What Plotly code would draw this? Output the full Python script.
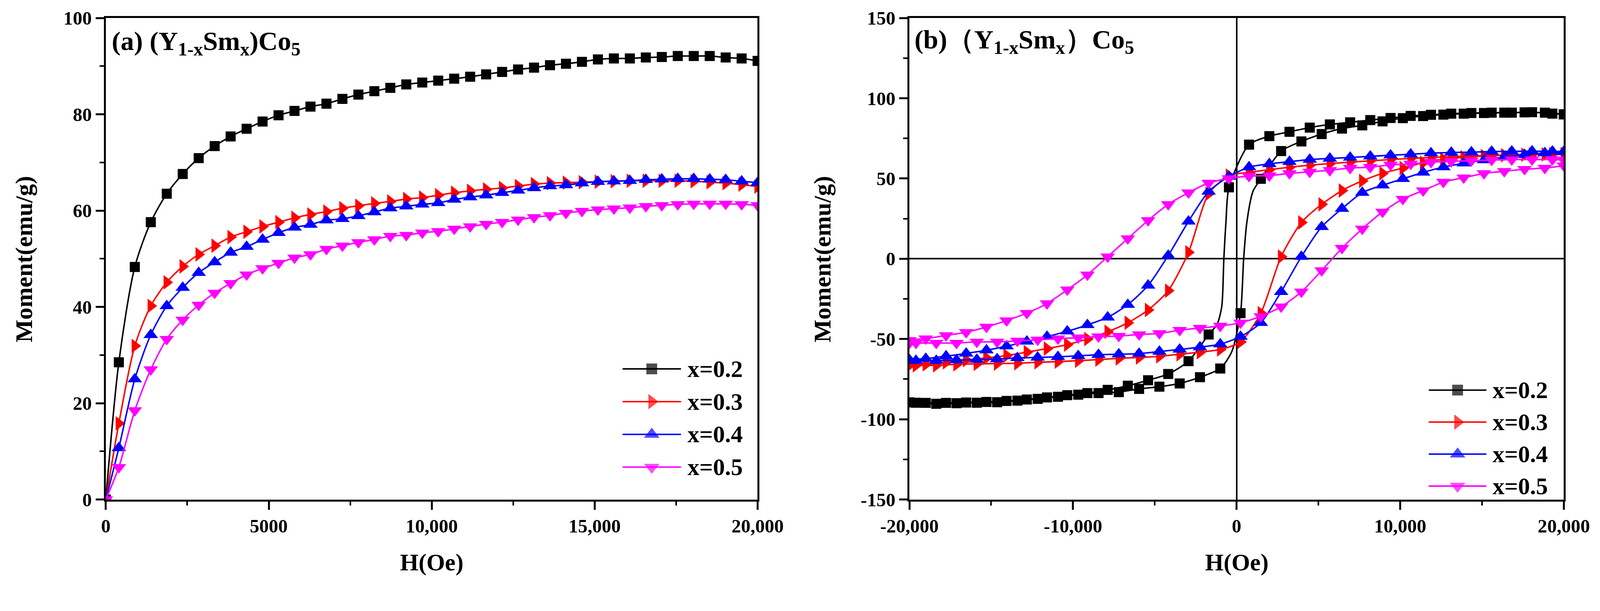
import plotly.graph_objects as go

# ---------- data: (a) initial magnetization curves ----------
H_a = [0, 400, 890, 1380, 1870, 2360, 2850, 3340, 3830, 4320, 4810, 5300, 5790, 6280,
       6770, 7260, 7750, 8240, 8730, 9220, 9710, 10200, 10690, 11180, 11670, 12160,
       12650, 13140, 13630, 14120, 14610, 15100, 15590, 16080, 16570, 17060, 17550,
       18040, 18530, 19020, 19510, 20000]

M_a_02 = [0, 28.5, 48.3, 57.6, 63.5, 67.6, 70.9, 73.4, 75.4, 77.0, 78.5, 79.8, 80.7, 81.6,
          82.2, 83.2, 84.1, 84.8, 85.5, 86.2, 86.6, 87.0, 87.4, 87.8, 88.3, 88.8, 89.3,
          89.7, 90.2, 90.5, 90.9, 91.4, 91.6, 91.6, 91.8, 91.9, 92.1, 92.1, 92.1, 91.8,
          91.6, 91.1]
M_a_03 = [0, 15.8, 31.9, 40.2, 45.1, 48.4, 50.9, 52.7, 54.5, 55.6, 56.7, 57.6, 58.5, 59.2,
          59.8, 60.5, 61.0, 61.5, 61.9, 62.4, 62.7, 63.2, 63.7, 64.1, 64.4, 64.7, 65.1,
          65.5, 65.7, 65.8, 65.9, 66.0, 66.1, 66.2, 66.2, 66.2, 66.2, 66.1, 65.9, 65.7,
          65.4, 65.0]
M_a_04 = [0, 10.7, 25.0, 34.2, 40.2, 44.0, 47.1, 49.3, 51.3, 52.5, 54.0, 55.4, 56.5, 57.1,
          58.0, 58.3, 58.9, 59.7, 60.5, 60.9, 61.3, 61.6, 62.3, 62.8, 63.2, 63.7, 64.2,
          64.7, 65.1, 65.3, 65.7, 66.0, 66.1, 66.2, 66.4, 66.5, 66.6, 66.6, 66.5, 66.4,
          66.1, 65.8]
M_a_05 = [0, 6.7, 18.5, 27.0, 33.3, 37.3, 40.4, 42.9, 44.9, 46.7, 48.0, 49.1, 50.2, 50.9,
          52.0, 52.7, 53.4, 54.0, 54.7, 54.9, 55.4, 55.7, 56.2, 56.7, 57.2, 57.6, 58.1,
          58.6, 59.0, 59.5, 59.9, 60.2, 60.4, 60.6, 60.9, 61.1, 61.3, 61.4, 61.4, 61.4,
          61.3, 61.1]

# ---------- data: (b) hysteresis loops (marked points) ----------
H_down = [20000, 19300, 18060, 16820, 15590, 14350, 13120, 11880, 10640, 9410, 8170, 6940,
          5700, 4470, 3230, 2000, 760, -470, -1710, -2940, -4180, -5410, -6650, -7880,
          -9120, -10350, -11590, -12820, -14060, -15290, -16530, -17760, -19000, -20000]
H_up = [-20000, -19600, -18360, -17120, -15880, -14640, -13400, -12160, -10920, -9680,
        -8440, -7200, -5960, -4720, -3480, -2240, -1000, 240, 1480, 2720, 3960, 5200,
        6440, 7680, 8920, 10160, 11400, 12640, 13880, 15120, 16360, 17600, 18840, 20000]

M_down_02 = [90.0, 90.4, 91.3, 91.0, 91.0, 90.8, 90.4, 89.7, 89.0, 87.7, 86.4, 85.0, 83.7,
             81.7, 79.1, 76.4, 71.1, 44.5, -47.2, -63.8, -71.8, -75.7, -79.1, -81.7, -83.7,
             -85.0, -86.4, -87.7, -88.6, -89.2, -89.6, -89.8, -89.8, -89.5]
M_up_02 = [-89.5, -89.7, -90.4, -90.0, -89.7, -89.4, -88.4, -87.3, -86.0, -84.7, -83.7,
           -83.1, -81.1, -79.7, -77.7, -73.8, -68.4, -33.9, 49.8, 67.1, 73.1, 77.7, 81.1,
           83.1, 85.6, 87.6, 88.9, 89.8, 90.4, 90.8, 91.0, 91.2, 91.0, 90.0]

M_down_03 = [65.1, 65.1, 65.0, 64.7, 64.4, 64.0, 63.6, 63.1, 62.5, 61.8, 61.0, 60.2, 59.3,
             58.3, 57.0, 55.5, 53.8, 51.8, 40.5, 4.0, -19.9, -31.9, -39.9, -45.5, -50.0,
             -53.5, -56.0, -58.2, -60.3, -61.8, -63.1, -64.5, -65.8, -66.0]
M_up_03 = [-66.4, -66.4, -66.4, -65.8, -65.5, -65.3, -65.1, -64.5, -64.1, -63.5, -62.8,
           -62.1, -61.5, -60.8, -59.5, -58.2, -56.5, -51.8, -33.9, 1.3, 22.6, 33.9, 42.5,
           48.5, 53.2, 56.5, 59.8, 62.0, 63.2, 64.0, 64.5, 64.8, 65.0, 65.1]

M_down_04 = [66.8, 66.9, 67.0, 66.9, 66.8, 66.4, 66.2, 65.8, 65.1, 64.5, 63.8, 63.1, 62.5,
             61.8, 60.5, 59.1, 57.1, 51.2, 41.9, 23.3, 2.0, -16.6, -28.6, -36.5, -41.2,
             -45.2, -48.5, -51.5, -54.5, -57.0, -59.0, -60.7, -62.3, -63.0]
M_up_04 = [-63.5, -63.5, -63.5, -63.1, -62.8, -62.5, -61.8, -61.5, -61.1, -60.5, -59.8,
           -59.5, -59.1, -57.8, -56.5, -55.1, -53.2, -48.5, -39.9, -20.6, 1.3, 19.9, 31.2,
           41.2, 45.8, 49.8, 53.8, 57.1, 59.5, 61.5, 63.3, 64.8, 65.9, 66.5]

M_down_05 = [61.5, 61.8, 61.8, 61.8, 61.5, 61.1, 60.7, 60.2, 59.1, 58.5, 57.1, 56.5, 55.1,
             54.1, 53.2, 51.8, 51.5, 50.0, 47.2, 41.2, 33.9, 23.9, 12.6, 1.3, -10.0, -19.3,
             -27.9, -33.9, -38.5, -42.5, -45.8, -47.8, -49.8, -50.8]
M_up_05 = [-52.5, -52.5, -52.5, -52.5, -51.8, -51.8, -51.2, -50.5, -49.8, -49.2, -48.5,
           -48.2, -47.2, -46.5, -44.5, -43.2, -41.9, -39.9, -35.9, -29.9, -20.6, -7.3, 6.6,
           18.6, 29.2, 37.2, 42.5, 47.8, 50.5, 53.2, 54.5, 55.8, 56.5, 58.0]

# unmarked readings on the steep part of the x=0.2 loop (line only, no symbol)
H_down_02_line = [-650, -780, -910, -1200]
M_down_02_line = [23, 0, -30, -41]
H_up_02_line = [-300, 430, 630, 1000]
M_up_02_line = [-58, 0, 23, 42]

labels = ['x=0.2', 'x=0.3', 'x=0.4', 'x=0.5']
colors = ['#000000', '#ff0000', '#0000ff', '#ff00ff']
symbols = ['square', 'triangle-right', 'triangle-up', 'triangle-down']

a_curves = [M_a_02, M_a_03, M_a_04, M_a_05]
b_down = [M_down_02, M_down_03, M_down_04, M_down_05]
b_up = [M_up_02, M_up_03, M_up_04, M_up_05]
b_down_line = [(H_down_02_line, M_down_02_line), ([], []), ([], []), ([], [])]
b_up_line = [(H_up_02_line, M_up_02_line), ([], []), ([], []), ([], [])]

FONT = 'Liberation Serif'

# positions below are in pixels of the 4295x1564 picture; the page shows the
# figure a bit enlarged and offset by the body margin, so sizes are scaled down
RW, RH = 4295, 1564
OFF = 8
B = 1.05
FW, FH = round((RW - OFF) / B), round((RH - OFF) / B)


def s(v):
    return v / B


def px(x):
    return (x - OFF) / (RW - OFF)


def py(y):
    return 1 - (y - OFF) / (RH - OFF)


def branch(h, m, h_extra, m_extra, falling):
    pts = sorted(zip(h + h_extra, m + m_extra), key=lambda p: -p[0] if falling else p[0])
    return [p[0] for p in pts], [p[1] for p in pts]


msizes = [s(27), s(34), s(34), s(34)]
LW = s(4)

fig = go.Figure()

# panel (a)
for i in range(4):
    fig.add_trace(go.Scatter(
        x=H_a, y=a_curves[i], mode='lines+markers', xaxis='x', yaxis='y',
        line=dict(color=colors[i], width=LW, shape='spline', smoothing=0.8),
        marker=dict(symbol=symbols[i], size=msizes[i], color=colors[i], line=dict(width=0)),
        showlegend=False))

# panel (b): line through all readings, symbols on the marked points
for i in range(4):
    xd, yd = branch(H_down, b_down[i], *b_down_line[i], falling=True)
    xu, yu = branch(H_up, b_up[i], *b_up_line[i], falling=False)
    fig.add_trace(go.Scatter(
        x=xd + xu, y=yd + yu, mode='lines', xaxis='x2', yaxis='y2',
        line=dict(color=colors[i], width=LW, shape='spline', smoothing=0.7),
        showlegend=False))
    fig.add_trace(go.Scatter(
        x=H_down + H_up, y=b_down[i] + b_up[i], mode='markers', xaxis='x2', yaxis='y2',
        marker=dict(symbol=symbols[i], size=msizes[i], color=colors[i], line=dict(width=0)),
        showlegend=False))

# hand-made legends (long line segments like the original)
legend_spots = [(1673, 1830, 1845, [991, 1079, 1167, 1255]),
                (3840, 3995, 4009, [1048, 1134, 1220, 1306])]
annots = []
for x0, x1, xt, rows in legend_spots:
    for i in range(4):
        yy = py(rows[i])
        fig.add_trace(go.Scatter(
            x=[px(x0), px((x0 + x1) / 2), px(x1)], y=[yy, yy, yy],
            mode='lines+markers', xaxis='x3', yaxis='y3',
            line=dict(color=colors[i], width=LW),
            marker=dict(symbol=symbols[i], size=[0, msizes[i] + s(2), 0], color=colors[i],
                        line=dict(width=0)),
            showlegend=False, hoverinfo='skip'))
        annots.append(dict(x=px(xt), y=yy, xref='paper', yref='paper',
                           text='<b>' + labels[i] + '</b>',
                           showarrow=False, xanchor='left', yanchor='middle',
                           font=dict(family=FONT, size=s(64), color='black')))

# panel titles
annots.append(dict(x=px(298), y=py(115), xref='paper', yref='paper',
                   text='<b>(a) (Y<sub>1-x</sub>Sm<sub>x</sub>)Co<sub>5</sub></b>',
                   showarrow=False, xanchor='left', yanchor='middle',
                   font=dict(family=FONT, size=s(72), color='black')))
annots.append(dict(x=px(2455), y=py(110), xref='paper', yref='paper',
                   text='<b>(b)（Y<sub>1-x</sub>Sm<sub>x</sub>）Co<sub>5</sub></b>',
                   showarrow=False, xanchor='left', yanchor='middle',
                   font=dict(family=FONT, size=s(72), color='black')))

# axis titles
for xc in [(284 + 2036) / 2, (2444 + 4203) / 2]:
    annots.append(dict(x=px(xc), y=py(1511), xref='paper', yref='paper', text='<b>H(Oe)</b>',
                       showarrow=False, xanchor='center', yanchor='middle',
                       font=dict(family=FONT, size=s(64), color='black')))
for xc in [64, 2210]:
    annots.append(dict(x=px(xc), y=py(696), xref='paper', yref='paper',
                       text='<b>Moment(emu/g)</b>', textangle=-90,
                       showarrow=False, xanchor='center', yanchor='middle',
                       font=dict(family=FONT, size=s(65), color='black')))


def axis(domain, rng, anchor, minor_vals, zero=False, **kw):
    d = dict(domain=domain, range=rng, anchor=anchor, showline=True, linewidth=s(5.5),
             linecolor='black', mirror=True, ticks='outside', ticklen=s(22), tickwidth=s(5),
             tickcolor='black', showgrid=False, zeroline=zero,
             zerolinecolor='black', zerolinewidth=s(4.5),
             tickfont=dict(family=FONT, size=s(51), color='black'),
             minor=dict(ticks='outside', ticklen=s(11), tickwidth=s(4), tickcolor='black',
                        tickmode='array', tickvals=minor_vals, showgrid=False))
    d.update(kw)
    return d


ydom = [py(1342), py(48)]
fig.update_layout(
    width=FW, height=FH, margin=dict(l=0, r=0, t=0, b=0, autoexpand=False),
    paper_bgcolor='white', plot_bgcolor='rgba(0,0,0,0)', showlegend=False,
    xaxis=axis([px(284), px(2036)], [0, 20000], 'y', [2500, 7500, 12500, 17500],
               tickmode='array', tickvals=[0, 5000, 10000, 15000, 20000],
               ticktext=['<b>0</b>', '<b>5000</b>', '<b>10,000</b>', '<b>15,000</b>', '<b>20,000</b>']),
    yaxis=axis(ydom, [0, 100], 'x', [10, 30, 50, 70, 90],
               tickmode='array', tickvals=[0, 20, 40, 60, 80, 100],
               ticktext=['<b>0</b>', '<b>20</b>', '<b>40</b>', '<b>60</b>', '<b>80</b>', '<b>100</b>']),
    xaxis2=axis([px(2444), px(4203)], [-20000, 20000], 'y2', [-15000, -5000, 5000, 15000], zero=True,
                tickmode='array', tickvals=[-20000, -10000, 0, 10000, 20000],
                ticktext=['<b>-20,000</b>', '<b>-10,000</b>', '<b>0</b>', '<b>10,000</b>', '<b>20,000</b>']),
    yaxis2=axis(ydom, [-150, 150], 'x2', [-125, -75, -25, 25, 75, 125], zero=True,
                tickmode='array', tickvals=[-150, -100, -50, 0, 50, 100, 150],
                ticktext=['<b>-150</b>', '<b>-100</b>', '<b>-50</b>', '<b>0</b>', '<b>50</b>',
                          '<b>100</b>', '<b>150</b>']),
    xaxis3=dict(domain=[0, 1], range=[0, 1], anchor='y3', visible=False, fixedrange=True),
    yaxis3=dict(domain=[0, 1], range=[0, 1], anchor='x3', visible=False, fixedrange=True),
    annotations=annots,
)

fig.write_html('out.html')
print('out.html created!')
